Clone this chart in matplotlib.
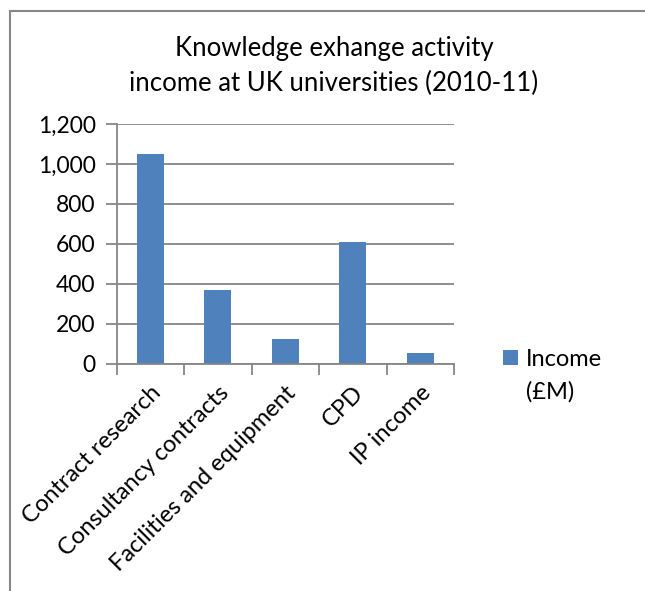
#!/usr/bin/env python3

import matplotlib

matplotlib.use("Agg")

import matplotlib.pyplot as plt
import numpy as np
from matplotlib.patches import Rectangle


CATEGORIES = [
    "Contract research",
    "Consultancy contracts",
    "Facilities and equipment",
    "CPD",
    "IP income",
]

# Income in millions of pounds, 2010-11.
INCOME = [1050, 368, 127, 608, 57]

Y_TICKS = [0, 200, 400, 600, 800, 1000, 1200]
Y_TICK_LABELS = ["0", "200", "400", "600", "800", "1,000", "1,200"]

TITLE = "Knowledge exhange activity\nincome at UK universities (2010-11)"
SERIES_LABEL = "Income"
SERIES_UNIT = "(£M)"

BAR_COLOR = "#4F81BD"
AXIS_COLOR = "#868686"
TEXT_COLOR = "#000000"

WIDTH_PX = 645
HEIGHT_PX = 591
DPI = 100


def px_x(x):
    return x / WIDTH_PX


def px_y(y):
    # pixel rows count from the top of the image
    return 1 - y / HEIGHT_PX


def main():
    plt.rcParams["font.family"] = ["Lato", "DejaVu Sans"]
    font_size = 16.5

    fig = plt.figure(figsize=(WIDTH_PX / DPI, HEIGHT_PX / DPI), dpi=DPI)

    # chart frame, open to the right and bottom
    fig.patches.append(
        Rectangle(
            (px_x(9.5), px_y(700)),
            1.2,
            px_y(11.5) - px_y(700),
            transform=fig.transFigure,
            fill=False,
            edgecolor=AXIS_COLOR,
            linewidth=1.5,
        )
    )

    ax = fig.add_axes([
        px_x(116.5),
        px_y(364),
        px_x(454) - px_x(116.5),
        px_y(124) - px_y(364),
    ])

    positions = np.arange(len(CATEGORIES))
    ax.bar(positions, INCOME, width=0.4, color=BAR_COLOR, zorder=3)

    ax.set_xlim(-0.5, len(CATEGORIES) - 0.5)
    ax.set_ylim(0, 1200)

    ax.set_yticks(Y_TICKS)
    ax.set_yticklabels(Y_TICK_LABELS, fontsize=font_size, color=TEXT_COLOR)
    ax.tick_params(axis="y", direction="out", length=8, width=1.3,
                   color=AXIS_COLOR, pad=7)
    ax.grid(axis="y", color=AXIS_COLOR, linewidth=1.3, zorder=0)

    # category boundaries carry the tick marks, centres carry the labels
    ax.set_xticks(positions)
    ax.set_xticklabels(
        CATEGORIES,
        fontsize=font_size + 0.5,
        rotation=45,
        ha="right",
        va="top",
        rotation_mode="anchor",
        color=TEXT_COLOR,
    )
    ax.tick_params(axis="x", which="major", length=0, pad=13)
    ax.set_xticks(np.arange(len(CATEGORIES) + 1) - 0.5, minor=True)
    ax.tick_params(axis="x", which="minor", direction="out", length=8,
                   width=1.3, color=AXIS_COLOR)

    for side in ("top", "right"):
        ax.spines[side].set_visible(False)
    for side in ("left", "bottom"):
        ax.spines[side].set_color(AXIS_COLOR)
        ax.spines[side].set_linewidth(1.3)
        ax.spines[side].set_zorder(4)

    fig.text(px_x(334), px_y(66), TITLE, ha="center", va="center",
             fontsize=18.5, color=TEXT_COLOR, linespacing=1.5)

    # legend: swatch beside the first line, unit on the line below
    fig.patches.append(
        Rectangle(
            (px_x(503), px_y(365)),
            px_x(15),
            15 / HEIGHT_PX,
            transform=fig.transFigure,
            facecolor=BAR_COLOR,
            edgecolor="none",
        )
    )
    fig.text(px_x(526), px_y(359), SERIES_LABEL, ha="left", va="center",
             fontsize=font_size + 0.5, color=TEXT_COLOR)
    fig.text(px_x(526), px_y(392), SERIES_UNIT, ha="left", va="center",
             fontsize=font_size + 0.5, color=TEXT_COLOR)

    fig.savefig("out.png", dpi=DPI)
    plt.close(fig)


if __name__ == "__main__":
    main()
